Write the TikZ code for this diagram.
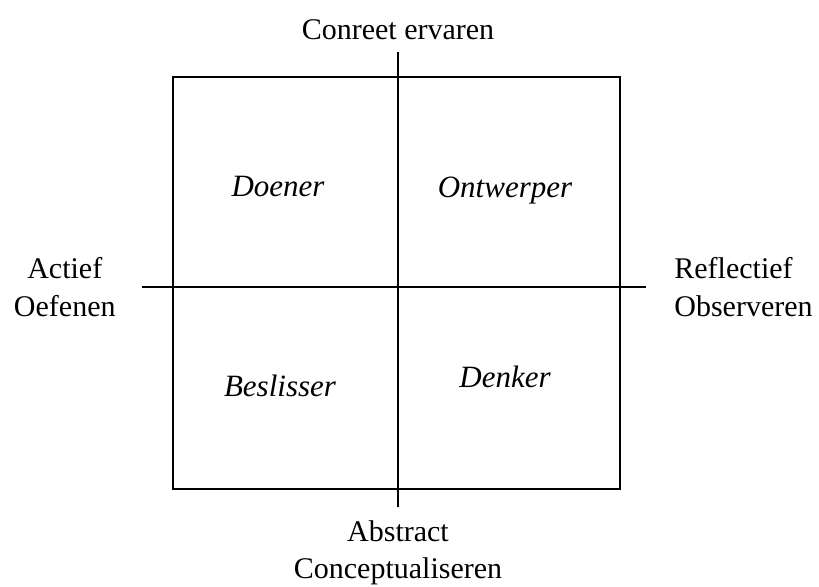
\documentclass[tikz,border=0pt]{standalone}
\usepackage{fontspec}
\setmainfont{Liberation Serif}
\usetikzlibrary{positioning}
\tikzset{axislabel/.style={inner sep=0pt, font=\fontsize{15}{18.75}\selectfont},
         quadlabel/.style={inner sep=0pt, anchor=base, font=\fontsize{15.5}{18}\selectfont\itshape},
         axis/.style={line width=0.9pt}}

\begin{document}
\begin{tikzpicture}[x=0.5pt, y=-0.5pt]
   \useasboundingbox (0,0) rectangle (819,587);
   \node[draw, axis, inner sep=0pt, minimum width=223.5pt, minimum height=206pt] (grid) at (396.5,283) {};
   \coordinate (top)    at (398,52);
   \coordinate (bottom) at (398,507);
   \coordinate (left)   at (142,287);
   \coordinate (right)  at (646,287);
   \draw[axis] (top) -- (bottom);
   \draw[axis] (left) -- (right);
   \node[axislabel, above=6pt of top]                  (concreet)   {Conreet ervaren};
   \node[axislabel, below=6.5pt of bottom, align=center] (abstract) {Abstract\\Conceptualiseren};
   \node[axislabel, left=13pt of left, align=center]   (actief)     {Actief\\Oefenen};
   \node[axislabel, right=14pt of right, align=left]   (reflectief) {Reflectief\\Observeren};
   \node[quadlabel] (doener)    at (278,197) {Doener};
   \node[quadlabel] (ontwerper) at (505,198) {Ontwerper};
   \node[quadlabel] (beslisser) at (280,397) {Beslisser};
   \node[quadlabel] (denker)    at (505,388) {Denker};
\end{tikzpicture}
\end{document}
